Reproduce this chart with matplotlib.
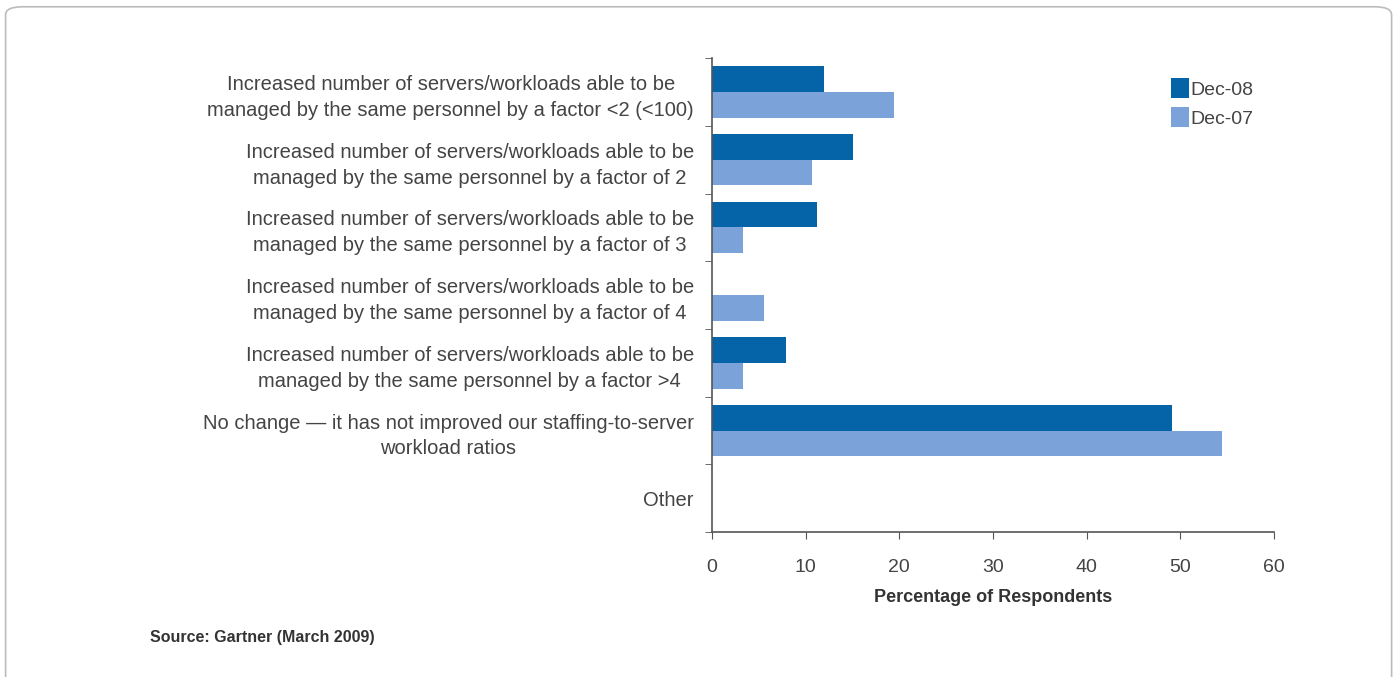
import numpy as np
import matplotlib.pyplot as plt
from matplotlib.patches import FancyBboxPatch

plt.rcParams['font.family'] = ['Liberation Sans', 'DejaVu Sans']

categories = [
    "Increased number of servers/workloads able to be\nmanaged by the same personnel by a factor <2 (<100)",
    "Increased number of servers/workloads able to be\nmanaged by the same personnel by a factor of 2",
    "Increased number of servers/workloads able to be\nmanaged by the same personnel by a factor of 3",
    "Increased number of servers/workloads able to be\nmanaged by the same personnel by a factor of 4",
    "Increased number of servers/workloads able to be\nmanaged by the same personnel by a factor >4",
    "No change \u2014 it has not improved our staffing-to-server\nworkload ratios",
    "Other",
]
dec08 = [12.0, 15.0, 11.2, 0.0, 7.9, 49.1, 0.0]
dec07 = [19.4, 10.7, 3.3, 5.5, 3.3, 54.4, 0.0]
xticks = [0, 10, 20, 30, 40, 50, 60]

dark = '#0563a8'
light = '#7ba3da'
axis_col = '#555555'
text_col = '#444444'

fig = plt.figure(figsize=(14, 6.77), dpi=100)

# rounded frame around the whole figure
frame = FancyBboxPatch((0.004, -0.05), 0.99, 1.04, boxstyle="round,pad=0,rounding_size=0.012",
                       transform=fig.transFigure, fill=False, edgecolor='#bbbbbb', linewidth=1.2)
fig.patches.append(frame)

ax = fig.add_axes([0.5086, 0.214, 0.4014, 0.700])

y = np.arange(len(categories))
h = 0.38
ax.barh(y - h / 2, dec08, height=h, color=dark, label='Dec-08')
ax.barh(y + h / 2, dec07, height=h, color=light, label='Dec-07')

ax.set_ylim(len(categories) - 0.5, -0.5)
ax.set_xlim(0, 60)
ax.set_xticks(xticks)
ax.set_yticks(y)
ax.set_yticklabels(categories, fontsize=14.5, color=text_col, multialignment='center',
                   linespacing=1.45)
ax.set_yticks(np.arange(len(categories) + 1) - 0.5, minor=True)
ax.tick_params(axis='y', which='major', length=0, pad=13)
ax.tick_params(axis='y', which='minor', length=5, color=axis_col, direction='out')
ax.tick_params(axis='x', length=5, color=axis_col, labelsize=14, labelcolor=text_col, pad=14)

for s in ['top', 'right']:
    ax.spines[s].set_visible(False)
for s in ['left', 'bottom']:
    ax.spines[s].set_color(axis_col)
    ax.spines[s].set_linewidth(1.2)

ax.set_xlabel('Percentage of Respondents', fontsize=13, fontweight='bold', color='#333333', labelpad=10)

ax.legend(loc='upper left', bbox_to_anchor=(0.786, 0.995), frameon=False, fontsize=14,
          handlelength=0.9, handleheight=1.2, handletextpad=0.1, labelspacing=0.45,
          labelcolor=text_col)

fig.text(0.107, 0.051, 'Source: Gartner (March 2009)', fontsize=11.5, fontweight='bold', color='#333333')

fig.savefig('out.png', dpi=100)
